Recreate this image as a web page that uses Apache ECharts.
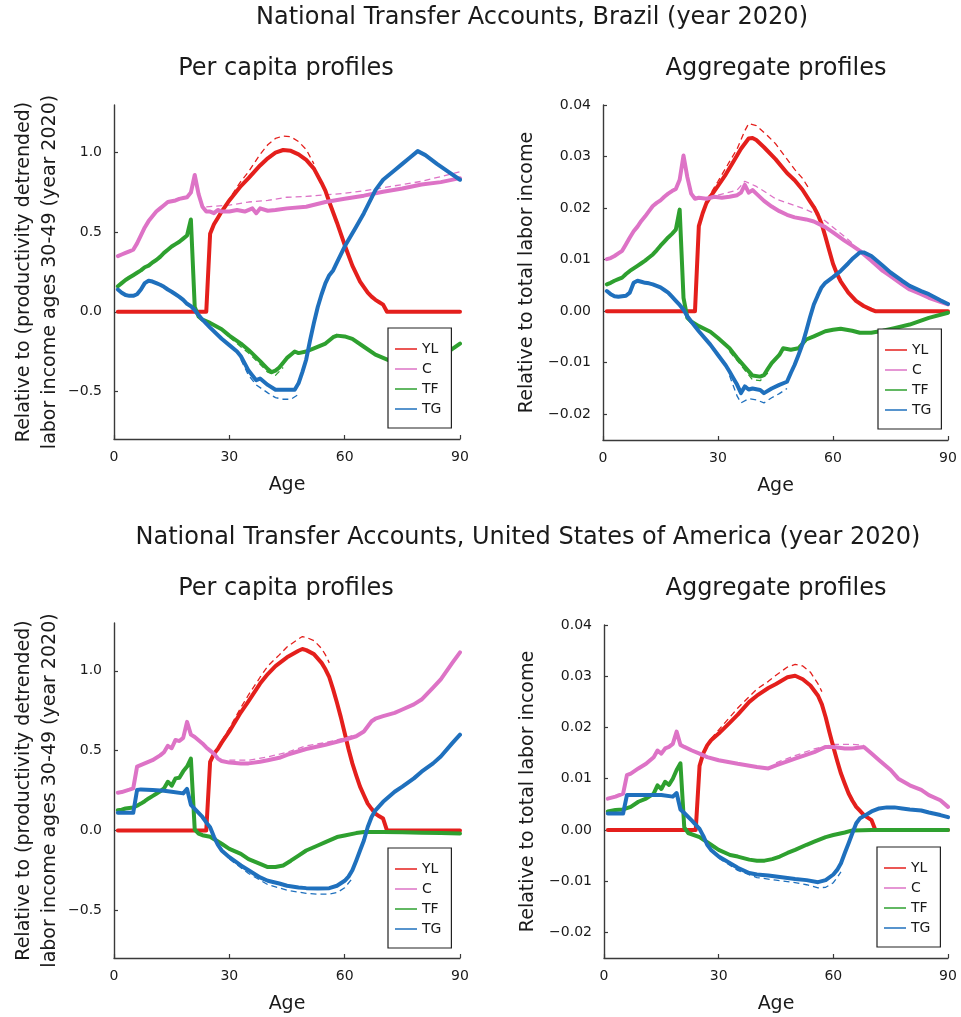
<!DOCTYPE html>
<html>
<head>
<meta charset="utf-8">
<script src="https://cdn.jsdelivr.net/npm/echarts@6/dist/echarts.min.js"></script>
<style>html,body{margin:0;padding:0;background:#fff}#c{width:961px;height:1017px}</style>
</head>
<body>
<div id="c"></div>
<script>
// ---------- Data (age, value) ----------
const SERIES_NAMES = ['YL', 'C', 'TF', 'TG'];
const AGE_TICKS = [0, 30, 60, 90];
const PC_TICKS = [-0.5, 0, 0.5, 1.0];
const AG_TICKS = [-0.02, -0.01, 0, 0.01, 0.02, 0.03, 0.04];

// Brazil, per capita
const BR_PC_YL = [[1,0],[24,0],[25,0.49],[26,0.55],[27,0.59],[28,0.63],[30,0.70],[33,0.79],[35,0.84],[38,0.92],[40,0.965],[42,1.0],[44,1.017],[46,1.012],[48,0.99],[50,0.955],[52,0.9],[54,0.81],[55,0.76],[56,0.69],[58,0.56],[60,0.42],[62,0.29],[63,0.24],[64,0.19],[65,0.155],[66,0.12],[67,0.095],[68,0.075],[69,0.06],[70,0.045],[71,0],[90,0]];
const BR_PC_C = [[1,0.35],[2,0.36],[3,0.37],[4,0.38],[5,0.39],[6,0.43],[7,0.48],[8,0.53],[9,0.57],[10,0.6],[11,0.63],[12,0.65],[13,0.67],[14,0.69],[15,0.695],[16,0.70],[17,0.71],[18,0.715],[19,0.72],[20,0.75],[21,0.86],[22,0.74],[23,0.66],[24,0.63],[25,0.63],[26,0.62],[27,0.64],[28,0.63],[30,0.63],[32,0.64],[34,0.63],[36,0.65],[37,0.62],[38,0.65],[40,0.635],[42,0.64],[45,0.65],[50,0.66],[55,0.69],[60,0.71],[65,0.73],[70,0.755],[75,0.775],[80,0.80],[85,0.815],[90,0.84]];
const BR_PC_TF = [[1,0.16],[2,0.18],[3,0.20],[4,0.215],[5,0.23],[6,0.245],[7,0.26],[8,0.28],[9,0.29],[10,0.31],[11,0.325],[12,0.345],[13,0.37],[14,0.39],[15,0.41],[16,0.425],[17,0.44],[18,0.46],[19,0.48],[20,0.58],[21,0.03],[22,-0.03],[23,-0.05],[25,-0.07],[28,-0.11],[30,-0.15],[33,-0.20],[35,-0.24],[38,-0.31],[40,-0.36],[41,-0.38],[42,-0.37],[43,-0.35],[44,-0.32],[45,-0.29],[46,-0.27],[47,-0.25],[48,-0.26],[50,-0.25],[52,-0.23],[55,-0.20],[57,-0.16],[58,-0.15],[60,-0.155],[62,-0.17],[65,-0.22],[68,-0.27],[70,-0.29],[72,-0.31],[75,-0.33],[78,-0.33],[81,-0.32],[84,-0.29],[87,-0.25],[90,-0.20]];
const BR_PC_TG = [[1,0.14],[2,0.12],[3,0.105],[4,0.10],[5,0.10],[6,0.11],[7,0.14],[8,0.18],[9,0.195],[10,0.19],[11,0.18],[12,0.17],[13,0.157],[14,0.14],[15,0.126],[16,0.11],[17,0.094],[18,0.075],[19,0.05],[20,0.035],[21,0.01],[22,-0.02],[23,-0.05],[25,-0.1],[28,-0.17],[30,-0.21],[32,-0.25],[33,-0.28],[35,-0.37],[36,-0.40],[37,-0.43],[38,-0.42],[40,-0.46],[42,-0.49],[45,-0.49],[47,-0.49],[48,-0.45],[49,-0.38],[50,-0.30],[51,-0.18],[52,-0.07],[53,0.03],[54,0.11],[55,0.18],[56,0.23],[57,0.26],[58,0.31],[60,0.41],[63,0.535],[65,0.62],[68,0.765],[70,0.83],[73,0.89],[75,0.93],[77,0.97],[79,1.01],[81,0.985],[84,0.93],[87,0.88],[90,0.83]];
const BR_PC_YL_ALT = [[28,0.63],[30,0.71],[33,0.82],[35,0.88],[38,0.99],[40,1.05],[42,1.09],[44,1.105],[46,1.1],[48,1.07],[50,1.02],[52,0.93]];
const BR_PC_C_ALT = [[24,0.66],[30,0.67],[35,0.69],[40,0.70],[45,0.72],[50,0.725],[55,0.735],[60,0.745],[65,0.76],[70,0.78],[75,0.80],[80,0.82],[85,0.85],[90,0.88]];
const BR_PC_TF_ALT = [[30,-0.16],[35,-0.26],[38,-0.33],[40,-0.38],[42,-0.40],[44,-0.35]];
const BR_PC_TG_ALT = [[33,-0.30],[35,-0.40],[37,-0.46],[40,-0.51],[42,-0.54],[44,-0.55],[46,-0.55],[48,-0.52]];

// Brazil, aggregate
const BR_AG_YL = [[1,0],[24,0],[25,0.0165],[26,0.019],[27,0.021],[28,0.0222],[30,0.0243],[32,0.0265],[34,0.029],[36,0.0315],[38,0.0335],[39,0.0336],[40,0.0332],[42,0.0318],[45,0.0295],[48,0.0268],[50,0.0254],[52,0.0236],[54,0.0213],[55,0.0202],[56,0.0188],[57,0.017],[58,0.0145],[59,0.0118],[60,0.0092],[61,0.0073],[62,0.0058],[64,0.0036],[66,0.002],[68,0.001],[70,0.0003],[71,0],[90,0]];
const BR_AG_C = [[1,0.0101],[2,0.0103],[3,0.0107],[4,0.0112],[5,0.0117],[6,0.013],[7,0.0143],[8,0.0155],[9,0.0164],[10,0.0175],[11,0.0184],[12,0.0194],[13,0.0204],[14,0.021],[15,0.0215],[16,0.0222],[17,0.0228],[18,0.0233],[19,0.0237],[20,0.0255],[21,0.0302],[22,0.026],[23,0.0228],[24,0.0218],[25,0.022],[27,0.0218],[29,0.0222],[31,0.022],[33,0.0222],[35,0.0225],[36,0.023],[37,0.0245],[38,0.023],[39,0.0235],[40,0.0228],[42,0.0214],[44,0.0203],[46,0.0194],[48,0.0187],[50,0.0182],[53,0.0178],[55,0.0174],[58,0.0163],[60,0.0153],[63,0.0137],[65,0.0127],[67,0.0117],[70,0.0098],[73,0.0078],[75,0.0068],[78,0.0052],[80,0.0042],[83,0.0033],[85,0.0026],[88,0.0018],[90,0.0013]];
const BR_AG_TF = [[1,0.0052],[2,0.0055],[3,0.0059],[4,0.0062],[5,0.0065],[6,0.0072],[7,0.0078],[8,0.0083],[9,0.0088],[10,0.0093],[11,0.0098],[12,0.0104],[13,0.011],[14,0.0118],[15,0.0127],[16,0.0135],[17,0.0143],[18,0.015],[19,0.0158],[20,0.0197],[21,0.0026],[22,-0.0013],[23,-0.002],[25,-0.0029],[28,-0.004],[30,-0.0052],[33,-0.0072],[35,-0.0091],[37,-0.0108],[39,-0.0125],[41,-0.0127],[42,-0.0124],[43,-0.0112],[44,-0.0101],[46,-0.0085],[47,-0.0072],[49,-0.0075],[51,-0.0072],[53,-0.0055],[55,-0.0049],[58,-0.0039],[60,-0.0036],[62,-0.0034],[65,-0.0038],[67,-0.0042],[70,-0.0042],[73,-0.0038],[76,-0.0033],[80,-0.0026],[85,-0.0013],[90,-0.0003]];
const BR_AG_TG = [[1,0.0039],[2,0.0033],[3,0.0029],[4,0.0028],[5,0.0029],[6,0.003],[7,0.0036],[8,0.0055],[9,0.0059],[10,0.0057],[11,0.0055],[12,0.0054],[13,0.0052],[14,0.0049],[15,0.0046],[16,0.0041],[17,0.0036],[18,0.0028],[19,0.002],[20,0.0012],[21,0.0003],[22,-0.001],[23,-0.002],[25,-0.0039],[28,-0.0065],[30,-0.0085],[32,-0.0105],[33,-0.0117],[34,-0.013],[35,-0.0143],[36,-0.0159],[37,-0.0146],[38,-0.0152],[39,-0.015],[41,-0.0153],[42,-0.0159],[44,-0.015],[46,-0.0143],[48,-0.0137],[49,-0.012],[50,-0.0104],[51,-0.0085],[52,-0.0065],[53,-0.0039],[54,-0.0012],[55,0.0013],[56,0.003],[57,0.0046],[58,0.0055],[60,0.0066],[62,0.0078],[64,0.0093],[65,0.0101],[67,0.0114],[68,0.0114],[70,0.0107],[73,0.0088],[75,0.0075],[78,0.0059],[80,0.0049],[83,0.0039],[85,0.0033],[88,0.0021],[90,0.0014]];
const BR_AG_YL_ALT = [[27,0.0215],[30,0.0252],[33,0.029],[35,0.0315],[37,0.035],[38,0.0364],[40,0.036],[43,0.034],[45,0.0325],[48,0.0295],[50,0.0275],[52,0.0258],[54,0.0235]];
const BR_AG_C_ALT = [[30,0.0225],[35,0.0235],[37,0.0252],[40,0.0242],[43,0.0228],[45,0.0218],[48,0.021],[50,0.0205],[53,0.0197],[55,0.019],[58,0.0175],[60,0.0163],[63,0.0145],[65,0.0132]];
const BR_AG_TF_ALT = [[33,-0.0078],[36,-0.0105],[39,-0.0133],[41,-0.0135],[43,-0.012]];
const BR_AG_TG_ALT = [[33,-0.0125],[35,-0.0165],[36,-0.0178],[38,-0.017],[40,-0.0172],[42,-0.0178],[44,-0.0168],[46,-0.016],[48,-0.015]];

// United States, per capita
const US_PC_YL = [[1,0],[24,0],[25,0.43],[26,0.48],[27,0.51],[28,0.55],[30,0.62],[33,0.74],[35,0.81],[38,0.92],[40,0.98],[42,1.03],[45,1.085],[48,1.126],[49,1.137],[50,1.13],[52,1.105],[54,1.05],[55,1.01],[56,0.96],[57,0.884],[58,0.80],[59,0.71],[60,0.61],[61,0.51],[62,0.42],[63,0.345],[64,0.274],[65,0.22],[66,0.168],[67,0.135],[68,0.105],[69,0.088],[70,0.074],[71,0],[90,0]];
const US_PC_C = [[1,0.236],[2,0.24],[3,0.248],[4,0.255],[5,0.263],[6,0.40],[8,0.42],[10,0.44],[12,0.47],[13,0.49],[14,0.53],[15,0.515],[16,0.567],[17,0.56],[18,0.58],[19,0.68],[20,0.60],[21,0.585],[22,0.565],[23,0.545],[24,0.52],[25,0.50],[26,0.48],[27,0.45],[28,0.435],[30,0.425],[33,0.42],[35,0.42],[38,0.43],[40,0.44],[43,0.455],[45,0.474],[50,0.51],[55,0.537],[60,0.568],[63,0.59],[65,0.62],[67,0.684],[68,0.70],[70,0.716],[73,0.737],[75,0.758],[78,0.79],[80,0.82],[83,0.895],[85,0.947],[88,1.05],[90,1.116]];
const US_PC_TF = [[1,0.126],[2,0.13],[3,0.137],[4,0.14],[5,0.143],[6,0.155],[7,0.168],[8,0.183],[9,0.2],[10,0.215],[11,0.23],[12,0.245],[13,0.263],[14,0.305],[15,0.28],[16,0.326],[17,0.33],[18,0.37],[19,0.40],[20,0.45],[21,0.005],[22,-0.02],[23,-0.03],[25,-0.04],[28,-0.084],[30,-0.116],[33,-0.147],[35,-0.18],[38,-0.21],[40,-0.23],[42,-0.23],[44,-0.22],[46,-0.19],[48,-0.158],[50,-0.126],[53,-0.095],[55,-0.074],[58,-0.042],[60,-0.032],[63,-0.017],[65,-0.01],[70,-0.01],[75,-0.012],[80,-0.015],[85,-0.017],[90,-0.02]];
const US_PC_TG = [[1,0.11],[3,0.11],[5,0.11],[6,0.253],[7,0.257],[10,0.253],[13,0.248],[15,0.242],[18,0.232],[19,0.26],[20,0.16],[21,0.135],[22,0.11],[23,0.084],[24,0.05],[25,0.02],[26,-0.04],[27,-0.09],[28,-0.126],[30,-0.168],[33,-0.22],[35,-0.25],[38,-0.295],[40,-0.316],[43,-0.333],[45,-0.347],[48,-0.358],[50,-0.362],[53,-0.364],[56,-0.362],[58,-0.347],[60,-0.316],[61,-0.29],[62,-0.25],[63,-0.19],[64,-0.126],[65,-0.063],[66,0.021],[67,0.084],[68,0.126],[70,0.179],[73,0.242],[75,0.274],[78,0.326],[80,0.368],[83,0.42],[85,0.463],[88,0.547],[90,0.60]];
const US_PC_YL_ALT = [[28,0.56],[30,0.64],[33,0.77],[35,0.85],[38,0.96],[40,1.03],[43,1.1],[45,1.15],[48,1.2],[49,1.215],[50,1.21],[52,1.19],[54,1.14],[55,1.1],[56,1.05]];
const US_PC_C_ALT = [[30,0.44],[35,0.44],[40,0.46],[45,0.49],[50,0.53],[55,0.55],[60,0.58],[63,0.60]];
const US_PC_TG_ALT = [[30,-0.18],[35,-0.27],[40,-0.34],[45,-0.375],[50,-0.395],[53,-0.40],[56,-0.40],[58,-0.39],[60,-0.36],[62,-0.30]];

// United States, aggregate
const US_AG_YL = [[1,0],[24,0],[25,0.0125],[26,0.015],[27,0.0165],[28,0.0175],[30,0.0188],[33,0.021],[35,0.0225],[38,0.025],[40,0.0262],[43,0.0277],[45,0.0285],[48,0.0298],[50,0.0301],[52,0.0294],[54,0.0282],[56,0.0262],[57,0.0245],[58,0.022],[59,0.019],[60,0.0162],[61,0.0135],[62,0.011],[63,0.009],[64,0.0071],[65,0.0057],[66,0.0045],[67,0.0037],[68,0.0029],[69,0.0024],[70,0.0019],[71,0],[90,0]];
const US_AG_C = [[1,0.0061],[3,0.0065],[5,0.0071],[6,0.0107],[7,0.011],[9,0.012],[11,0.0129],[13,0.0142],[14,0.0155],[15,0.0149],[16,0.0159],[17,0.0162],[18,0.0168],[19,0.0192],[20,0.0166],[21,0.0162],[23,0.0155],[25,0.0149],[27,0.0142],[30,0.0136],[35,0.0129],[40,0.0123],[43,0.012],[45,0.0126],[50,0.0139],[55,0.0152],[58,0.0162],[60,0.0162],[63,0.0159],[65,0.0159],[68,0.0162],[70,0.0149],[72,0.0136],[75,0.0117],[77,0.01],[80,0.0087],[83,0.0078],[85,0.0068],[88,0.0058],[90,0.0045]];
const US_AG_TF = [[1,0.0036],[3,0.0039],[5,0.004],[7,0.0045],[9,0.0055],[11,0.0061],[13,0.0071],[14,0.0087],[15,0.0080],[16,0.0094],[17,0.0088],[18,0.01],[19,0.0117],[20,0.013],[21,0.0005],[22,-0.0006],[25,-0.0014],[28,-0.0029],[30,-0.0039],[33,-0.0049],[35,-0.0052],[38,-0.0058],[40,-0.006],[42,-0.006],[44,-0.0057],[46,-0.0052],[48,-0.0045],[50,-0.0039],[53,-0.0029],[55,-0.0023],[58,-0.0014],[60,-0.001],[63,-0.0005],[65,-0.0001],[70,0],[90,0]];
const US_AG_TG = [[1,0.0032],[5,0.0032],[6,0.0068],[10,0.0068],[15,0.0068],[18,0.0065],[19,0.0072],[20,0.004],[21,0.0033],[23,0.0018],[25,0.0002],[26,-0.0012],[27,-0.0029],[28,-0.0039],[30,-0.0052],[33,-0.0065],[35,-0.0074],[38,-0.0084],[40,-0.0087],[43,-0.0089],[45,-0.0091],[48,-0.0094],[50,-0.0096],[53,-0.0098],[56,-0.0102],[58,-0.0098],[60,-0.0087],[61,-0.0078],[62,-0.0065],[63,-0.0045],[64,-0.0026],[65,-0.0006],[66,0.0013],[67,0.0023],[68,0.0027],[70,0.0036],[72,0.0042],[74,0.0044],[76,0.0044],[78,0.0042],[80,0.004],[83,0.0038],[85,0.0034],[88,0.0029],[90,0.0025]];
const US_AG_YL_ALT = [[28,0.0178],[30,0.0195],[35,0.0238],[40,0.0275],[43,0.029],[45,0.0302],[48,0.0318],[50,0.0323],[52,0.032],[54,0.0308],[56,0.0285],[57,0.027]];
const US_AG_C_ALT = [[45,0.0131],[50,0.0145],[55,0.0158],[60,0.0167],[65,0.0167],[68,0.0165]];
const US_AG_TG_ALT = [[30,-0.0055],[35,-0.0079],[40,-0.0093],[45,-0.0098],[50,-0.0103],[53,-0.0107],[56,-0.0113],[58,-0.0112],[60,-0.0103],[62,-0.0082]];

// ---------- Styling / layout ----------
const COLORS = {YL: '#e41f1c', C: '#dd73c6', TF: '#2ea02f', TG: '#1f70bd'};
const FONT = 'DejaVu Sans';
const AXIS_COLOR = '#3a3a3a';
const TEXT_COLOR = '#1a1a1a';

const solidSets = [
  [BR_PC_YL, BR_PC_C, BR_PC_TF, BR_PC_TG],
  [BR_AG_YL, BR_AG_C, BR_AG_TF, BR_AG_TG],
  [US_PC_YL, US_PC_C, US_PC_TF, US_PC_TG],
  [US_AG_YL, US_AG_C, US_AG_TF, US_AG_TG]
];
const altSets = [
  [BR_PC_YL_ALT, BR_PC_C_ALT, BR_PC_TF_ALT, BR_PC_TG_ALT],
  [BR_AG_YL_ALT, BR_AG_C_ALT, BR_AG_TF_ALT, BR_AG_TG_ALT],
  [US_PC_YL_ALT, US_PC_C_ALT, null, US_PC_TG_ALT],
  [US_AG_YL_ALT, US_AG_C_ALT, null, US_AG_TG_ALT]
];

const grids = [
  {left: 114, top: 105, width: 346, height: 334},
  {left: 603, top: 105, width: 345, height: 335},
  {left: 114, top: 623, width: 346, height: 335},
  {left: 604, top: 625, width: 344, height: 333}
];
const isAgg = [false, true, false, true];
const yNames = [
  'Relative to (productivity detrended)\nlabor income ages 30-49 (year 2020)',
  'Relative to total labor income',
  'Relative to (productivity detrended)\nlabor income ages 30-49 (year 2020)',
  'Relative to total labor income'
];
const legendPos = [
  {left: 388, top: 328}, {left: 878, top: 329},
  {left: 388, top: 848}, {left: 877, top: 847}
];
// thin horizontal bar used as the legend key (keeps aspect → drawn as a 22x1.5 line)
const LEGEND_ICON = 'path://M0,0 L22,0 L22,1.5 L0,1.5 Z';

function fmt(v, d) { return v.toFixed(d).replace('-', '\u2212'); }

const xAxes = grids.map((g, i) => ({
  type: 'value', gridIndex: i, min: 0, max: 90, interval: 30,
  name: 'Age', nameLocation: 'middle', nameGap: 37,
  nameTextStyle: {fontFamily: FONT, fontSize: 19, color: TEXT_COLOR},
  axisLine: {show: true, onZero: false, lineStyle: {color: AXIS_COLOR, width: 1.4}},
  axisTick: {show: true, inside: true, length: 4, lineStyle: {color: AXIS_COLOR, width: 1.2}},
  axisLabel: {fontFamily: FONT, fontSize: 14, color: TEXT_COLOR, margin: 11,
    customValues: AGE_TICKS, formatter: v => String(v)},
  splitLine: {show: false}
}));

const yAxes = grids.map((g, i) => {
  const agg = isAgg[i];
  const ticks = agg ? AG_TICKS : PC_TICKS;
  return {
    type: 'value', gridIndex: i,
    min: agg ? -0.025 : -0.8, max: agg ? 0.04 : 1.3,
    name: yNames[i], nameLocation: 'middle', nameRotate: 90,
    nameGap: agg ? 63 : 51,
    nameTextStyle: {fontFamily: FONT, fontSize: 19, color: TEXT_COLOR, lineHeight: 26, align: 'center'},
    axisLine: {show: true, onZero: false, lineStyle: {color: AXIS_COLOR, width: 1.4}},
    axisTick: {show: true, inside: true, length: 4, customValues: ticks, lineStyle: {color: AXIS_COLOR, width: 1.2}},
    axisLabel: {fontFamily: FONT, fontSize: 14, color: TEXT_COLOR, margin: 12,
      customValues: ticks, formatter: v => fmt(v, agg ? 2 : 1)},
    splitLine: {show: false}
  };
});

const series = [];
grids.forEach((g, i) => {
  SERIES_NAMES.forEach((n, k) => {
    const alt = altSets[i][k];
    if (alt) {
      series.push({
        type: 'line', name: n + ' (alt)', xAxisIndex: i, yAxisIndex: i, data: alt,
        symbol: 'none', showSymbol: false, silent: true, z: 2,
        lineStyle: {color: COLORS[n], width: 1.3, type: [6, 4]},
        itemStyle: {color: COLORS[n]}
      });
    }
  });
  SERIES_NAMES.forEach((n, k) => {
    series.push({
      type: 'line', name: n, xAxisIndex: i, yAxisIndex: i, data: solidSets[i][k],
      symbol: 'none', showSymbol: false, z: 3,
      lineStyle: {color: COLORS[n], width: 4, cap: 'round', join: 'round'},
      itemStyle: {color: COLORS[n]}
    });
  });
});

const legends = legendPos.map(p => ({
  left: p.left, top: p.top, orient: 'vertical',
  data: SERIES_NAMES.map(n => ({name: n, icon: LEGEND_ICON})),
  itemWidth: 22, itemHeight: 14, itemGap: 6, selectedMode: false,
  padding: [14, 10, 12, 7],
  backgroundColor: '#ffffff', borderColor: '#222', borderWidth: 1.2, borderRadius: 0,
  textStyle: {fontFamily: FONT, fontSize: 14, color: TEXT_COLOR}
}));

function titleText(text, x, y) {
  return {type: 'text', x: x, y: y, silent: true,
    style: {text: text, fill: TEXT_COLOR, font: '24px "DejaVu Sans"', textAlign: 'center', textVerticalAlign: 'middle'}};
}

const chart = echarts.init(document.getElementById('c'), null, {renderer: 'canvas'});
chart.setOption({
  backgroundColor: '#ffffff',
  animation: false,
  grid: grids,
  xAxis: xAxes,
  yAxis: yAxes,
  legend: legends,
  series: series,
  graphic: [
    titleText('National Transfer Accounts, Brazil (year 2020)', 532, 18),
    titleText('Per capita profiles', 286, 69),
    titleText('Aggregate profiles', 776, 69),
    titleText('National Transfer Accounts, United States of America (year 2020)', 528, 538),
    titleText('Per capita profiles', 286, 589),
    titleText('Aggregate profiles', 776, 589)
  ]
});
</script>
</body>
</html>
